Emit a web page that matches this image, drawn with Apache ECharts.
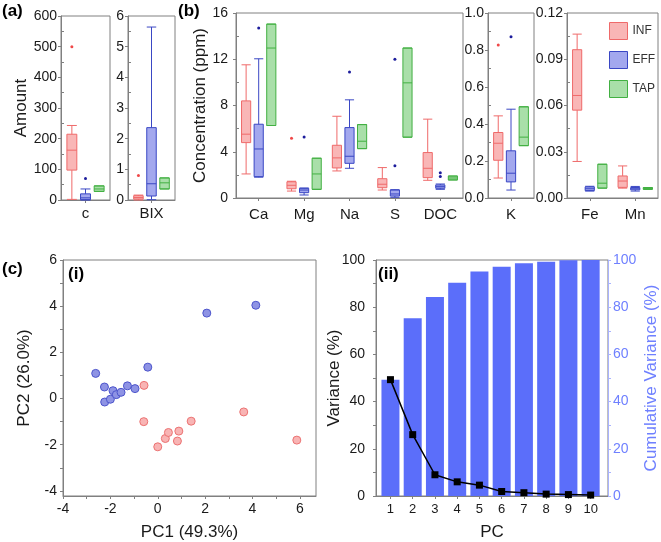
<!DOCTYPE html>
<html><head><meta charset="utf-8">
<script src="https://cdn.jsdelivr.net/npm/echarts@6/dist/echarts.min.js"></script>
<style>html,body{margin:0;padding:0;background:#fff}#c{width:661px;height:542px}</style>
</head><body><div id="c"></div><script>
const FONT = '"Liberation Sans", Arial, sans-serif';
const AX = '#808080';
const TXT = '#1a1a1a';

// ---------- Panel (a) ----------
const catsC = ['c'];
const catsBIX = ['BIX'];
const cInf = [[2, 97.5, 162.5, 214.5, 243]];
const cEff = [[0, 1, 7, 20, 36]];
const cTap = [[28, 28, 36, 46, 46]];
const cInfOut = [[0, 500]];
const cEffOut = [[0, 70]];
const bixInf = [[0.0, 0.03, 0.08, 0.14, 0.16]];
const bixEff = [[0.01, 0.13, 0.53, 2.36, 5.64]];
const bixTap = [[0.36, 0.36, 0.56, 0.72, 0.72]];
const bixInfOut = [[0, 0.8]];

// ---------- Panel (b) ----------
const catsMain = ['Ca', 'Mg', 'Na', 'S', 'DOC'];
const mainInf = [[2.08, 4.79, 5.52, 8.4, 11.52], [0.6, 0.8, 1.1, 1.4, 1.45], [2.34, 2.6, 3.47, 4.56, 7.07], [0.69, 0.89, 1.19, 1.67, 2.63], [1.53, 1.76, 2.57, 3.93, 6.82]];
const mainEff = [[1.8, 1.85, 4.24, 6.38, 12.04], [0.26, 0.46, 0.69, 0.84, 0.86], [2.57, 3.0, 3.61, 6.09, 8.49], [0.06, 0.17, 0.35, 0.69, 0.72], [0.75, 0.84, 0.98, 1.13, 1.21]];
const mainTap = [[6.27, 6.27, 12.97, 15.04, 15.04], [0.75, 0.75, 2.08, 3.44, 3.44], [4.27, 4.27, 4.91, 6.35, 6.35], [5.26, 5.26, 9.96, 12.97, 12.97], [1.56, 1.56, 1.73, 1.9, 1.9]];
const mainInfOut = [[1, 5.17]];
const mainEffOut = [[0, 14.7], [1, 5.28], [2, 10.89], [3, 12.01], [3, 2.8], [4, 2.19], [4, 1.85]];

const catsK = ['K'];
const kInf = [[0.108, 0.204, 0.296, 0.354, 0.444]];
const kEff = [[0.043, 0.087, 0.134, 0.255, 0.48]];
const kTap = [[0.283, 0.283, 0.329, 0.493, 0.493]];
const kInfOut = [[0, 0.827]];
const kEffOut = [[0, 0.872]];

const catsFeMn = ['Fe', 'Mn'];
const feInf = [[0.0237, 0.057, 0.0665, 0.0962, 0.1063], [0.0064, 0.0069, 0.011, 0.0143, 0.0208]];
const feEff = [[0.0045, 0.0048, 0.006, 0.0072, 0.0076], [0.0045, 0.0053, 0.006, 0.0068, 0.0075]];
const feTap = [[0.0064, 0.0064, 0.0096, 0.0219, 0.0219], [0.0056, 0.0056, 0.0062, 0.0068, 0.0068]];

// ---------- Panel (c)(i) ----------
const pcaInf = [[-0.58, 0.57], [-0.59, -1.0], [0.0, -2.09], [0.32, -1.73], [0.45, -1.47], [0.83, -1.84], [0.89, -1.41], [1.41, -0.98], [3.63, -0.58], [5.87, -1.8]];
const pcaEff = [[-2.62, 1.09], [-2.25, 0.50], [-1.89, 0.34], [-2.24, -0.15], [-2.0, -0.03], [-1.75, 0.17], [-1.55, 0.27], [-1.28, 0.55], [-0.96, 0.43], [-0.42, 1.36], [2.07, 3.70], [4.14, 4.04]];
const pcTicks = [-4, -2, 0, 2, 4, 6];
const pcMinor = [-4, -3, -2, -1, 0, 1, 2, 3, 4, 5, 6];

// ---------- Panel (c)(ii) ----------
const pcs = [1, 2, 3, 4, 5, 6, 7, 8, 9, 10];
const variance = [49.3, 26.0, 9.0, 6.0, 4.6, 1.9, 1.4, 0.8, 0.6, 0.4];
const cumulative = [49.3, 75.3, 84.3, 90.4, 95.1, 97.1, 98.6, 99.3, 99.9, 100];

const COL = {
  INF: { fill: '#f9b6b6', border: '#ef6a6a', dot: '#f04848' },
  EFF: { fill: '#a3a8ee', border: '#3a47c4', dot: '#1c1c9c' },
  TAP: { fill: '#a9dfa9', border: '#42b042', dot: '#2a8a2a' }
};
const GROUPS = ['INF', 'EFF', 'TAP'];

const grids = [
  { left: 61, top: 16, width: 49, height: 184 },
  { left: 128, top: 16, width: 47, height: 184 },
  { left: 236, top: 13, width: 227, height: 185 },
  { left: 488, top: 13, width: 46, height: 185 },
  { left: 567, top: 13, width: 91, height: 185 },
  { left: 63, top: 260, width: 253, height: 237 },
  { left: 376, top: 260, width: 232, height: 237 }
].map(g => Object.assign({ show: true, borderColor: AX, borderWidth: 1, backgroundColor: 'transparent' }, g));

function catX(gi, cats, margin) {
  return {
    type: 'category', gridIndex: gi, data: cats,
    axisLine: { show: true, onZero: false, lineStyle: { color: AX } },
    axisTick: { show: true, alignWithLabel: true, length: 3, lineStyle: { color: AX } },
    axisLabel: { fontSize: 15, color: TXT, margin: margin, fontFamily: FONT, interval: 0 },
    splitLine: { show: false }
  };
}
function valY(gi, min, max, interval, fmt, margin, name, gap) {
  return {
    type: 'value', gridIndex: gi, min: min, max: max, interval: interval,
    splitLine: { show: false },
    axisLine: { show: true, onZero: false, lineStyle: { color: AX } },
    axisTick: { show: true, length: 3, lineStyle: { color: AX } },
    minorTick: { show: true, splitNumber: 2, length: -3, lineStyle: { color: AX } },
    axisLabel: { fontSize: 14, color: TXT, margin: margin, formatter: fmt, fontFamily: FONT },
    name: name || '', nameLocation: 'middle', nameGap: gap || 0,
    nameTextStyle: { fontSize: 17, color: TXT, fontFamily: FONT }
  };
}

function boxSeries(gi, group, data) {
  const c = COL[group];
  return {
    type: 'boxplot', name: group, xAxisIndex: gi, yAxisIndex: gi, data: data,
    itemStyle: { color: c.fill, borderColor: c.border, borderWidth: 1 },
    emphasis: { disabled: true }, silent: true
  };
}
function outSeries(gi, group, nCats, data) {
  const gIdx = GROUPS.indexOf(group);
  const color = COL[group].dot;
  return {
    type: 'custom', name: group + ' outliers', xAxisIndex: gi, yAxisIndex: gi, data: data, silent: true, z: 5,
    renderItem: function (params, api) {
      const p = api.coord([api.value(0), api.value(1)]);
      const band = params.coordSys.width / nCats;
      const avail = band * 0.8 - 2;
      const step = avail * (0.8 / 3 + 0.1);
      return { type: 'circle', shape: { cx: p[0] + (gIdx - 1) * step, cy: p[1], r: 1.5 }, style: { fill: color } };
    }
  };
}

const xAxes = [
  catX(0, catsC, 6), catX(1, catsBIX, 6), catX(2, catsMain, 9), catX(3, catsK, 9), catX(4, catsFeMn, 9),
  {
    type: 'value', gridIndex: 5, min: -4, max: 6.68,
    splitLine: { show: false },
    axisLine: { show: true, onZero: false, lineStyle: { color: AX } },
    axisTick: { show: true, length: 3, customValues: pcMinor, lineStyle: { color: AX } },
    axisLabel: { fontSize: 14, color: TXT, margin: 6, customValues: pcTicks, fontFamily: FONT },
    name: 'PC1 (49.3%)', nameLocation: 'middle', nameGap: 28,
    nameTextStyle: { fontSize: 17, color: TXT, fontFamily: FONT }
  },
  {
    type: 'value', gridIndex: 6, min: 0.35, max: 10.78,
    splitLine: { show: false },
    axisLine: { show: true, onZero: false, lineStyle: { color: AX } },
    axisTick: { show: true, length: 3, customValues: pcs, lineStyle: { color: AX } },
    axisLabel: { fontSize: 13, color: TXT, margin: 7, customValues: pcs, fontFamily: FONT },
    name: 'PC', nameLocation: 'middle', nameGap: 28,
    nameTextStyle: { fontSize: 17, color: TXT, fontFamily: FONT }
  }
];

const yAxes = [
  valY(0, 0, 600, 100, null, 4, 'Amount', 28),
  valY(1, 0, 6, 1, null, 4),
  valY(2, 0, 16, 4, null, 8, 'Concentration (ppm)', 19),
  valY(3, 0, 1.0, 0.2, v => v.toFixed(1), 4),
  valY(4, 0, 0.12, 0.03, v => v.toFixed(2), 4),
  {
    type: 'value', gridIndex: 5, min: -4.22, max: 6,
    splitLine: { show: false },
    axisLine: { show: true, onZero: false, lineStyle: { color: AX } },
    axisTick: { show: true, length: 3, customValues: pcMinor, lineStyle: { color: AX } },
    axisLabel: { fontSize: 14, color: TXT, margin: 6, customValues: pcTicks, fontFamily: FONT },
    name: 'PC2 (26.0%)', nameLocation: 'middle', nameGap: 30,
    nameTextStyle: { fontSize: 17, color: TXT, fontFamily: FONT }
  },
  {
    type: 'value', gridIndex: 6, min: 0, max: 100, interval: 20, position: 'left',
    splitLine: { show: false },
    axisLine: { show: true, onZero: false, lineStyle: { color: AX } },
    axisTick: { show: true, length: 3, lineStyle: { color: AX } },
    minorTick: { show: true, splitNumber: 2, length: 3, lineStyle: { color: AX } },
    axisLabel: { fontSize: 14, color: TXT, margin: 11, fontFamily: FONT },
    name: 'Variance (%)', nameLocation: 'middle', nameGap: 33, nameMoveOverlap: false,
    nameTextStyle: { fontSize: 17, color: TXT, fontFamily: FONT }
  },
  {
    type: 'value', gridIndex: 6, min: 0, max: 100, interval: 20, position: 'right',
    splitLine: { show: false },
    axisLine: { show: true, onZero: false, lineStyle: { color: '#a9b3ff' } },
    axisTick: { show: true, length: 3, lineStyle: { color: '#a9b3ff' } },
    minorTick: { show: true, splitNumber: 2, length: 3, lineStyle: { color: '#a9b3ff' } },
    axisLabel: { fontSize: 14, color: '#6f80ff', margin: 5, fontFamily: FONT },
    name: 'Cumulative Variance (%)', nameLocation: 'middle', nameGap: 35,
    nameTextStyle: { fontSize: 17, color: '#6f80ff', fontFamily: FONT }
  }
];

const series = [
  boxSeries(0, 'INF', cInf), boxSeries(0, 'EFF', cEff), boxSeries(0, 'TAP', cTap),
  outSeries(0, 'INF', 1, cInfOut), outSeries(0, 'EFF', 1, cEffOut),
  boxSeries(1, 'INF', bixInf), boxSeries(1, 'EFF', bixEff), boxSeries(1, 'TAP', bixTap),
  outSeries(1, 'INF', 1, bixInfOut),
  boxSeries(2, 'INF', mainInf), boxSeries(2, 'EFF', mainEff), boxSeries(2, 'TAP', mainTap),
  outSeries(2, 'INF', catsMain.length, mainInfOut), outSeries(2, 'EFF', catsMain.length, mainEffOut),
  boxSeries(3, 'INF', kInf), boxSeries(3, 'EFF', kEff), boxSeries(3, 'TAP', kTap),
  outSeries(3, 'INF', 1, kInfOut), outSeries(3, 'EFF', 1, kEffOut),
  boxSeries(4, 'INF', feInf), boxSeries(4, 'EFF', feEff), boxSeries(4, 'TAP', feTap),
  {
    type: 'scatter', name: 'INF samples', xAxisIndex: 5, yAxisIndex: 5, data: pcaInf,
    symbolSize: 8, itemStyle: { color: '#f8b4b4', borderColor: '#ec7272', borderWidth: 1, opacity: 1 }, silent: true
  },
  {
    type: 'scatter', name: 'EFF samples', xAxisIndex: 5, yAxisIndex: 5, data: pcaEff,
    symbolSize: 8, itemStyle: { color: '#8e93e4', borderColor: '#4d55cc', borderWidth: 1, opacity: 1 }, silent: true
  },
  {
    type: 'bar', name: 'Cumulative', xAxisIndex: 6, yAxisIndex: 7,
    data: pcs.map((p, i) => [p, cumulative[i]]), barWidth: 18,
    itemStyle: { color: '#5b6efa' }, silent: true
  },
  {
    type: 'line', name: 'Variance', xAxisIndex: 6, yAxisIndex: 6,
    data: pcs.map((p, i) => [p, variance[i]]),
    symbol: 'rect', symbolSize: 7, showSymbol: true,
    lineStyle: { color: '#000', width: 1.5 }, itemStyle: { color: '#000' }, z: 10, silent: true
  }
];

const chart = echarts.init(document.getElementById('c'), null, { renderer: 'canvas' });
chart.setOption({
  animation: false,
  backgroundColor: '#fff',
  textStyle: { fontFamily: FONT },
  grid: grids,
  xAxis: xAxes,
  yAxis: yAxes,
  legend: {
    left: 609, top: 22, orient: 'vertical', icon: 'rect', itemWidth: 18, itemHeight: 17, itemGap: 11, padding: 0,
    textStyle: { fontSize: 12, color: '#333', fontFamily: FONT },
    selectedMode: false,
    data: GROUPS.map(g => ({ name: g, itemStyle: { color: COL[g].fill, borderColor: COL[g].border, borderWidth: 1 } }))
  },
  graphic: [
    { type: 'text', left: 2, top: 3, style: { text: '(a)', font: 'bold 17px ' + FONT, fill: '#000' } },
    { type: 'text', left: 178, top: 3, style: { text: '(b)', font: 'bold 17px ' + FONT, fill: '#000' } },
    { type: 'text', left: 2, top: 261, style: { text: '(c)', font: 'bold 17px ' + FONT, fill: '#000' } },
    { type: 'text', left: 68, top: 266, style: { text: '(i)', font: 'bold 17px ' + FONT, fill: '#000' } },
    { type: 'text', left: 378, top: 266, style: { text: '(ii)', font: 'bold 17px ' + FONT, fill: '#000' } }
  ],
  series: series
});
</script></body></html>
